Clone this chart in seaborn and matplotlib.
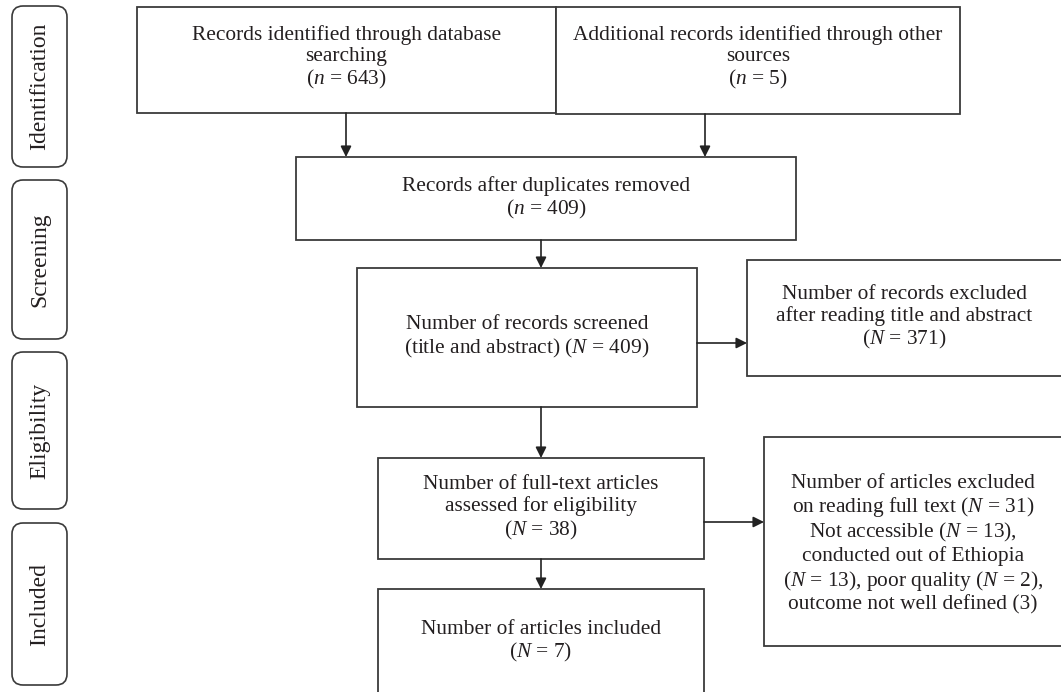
import matplotlib
matplotlib.use("Agg")
import matplotlib.pyplot as plt
import seaborn as sns
from matplotlib.patches import Rectangle, FancyBboxPatch

sns.set_style("white")
plt.rcParams["font.family"] = ["Liberation Serif", "DejaVu Serif"]
plt.rcParams["mathtext.fontset"] = "custom"
plt.rcParams["mathtext.rm"] = "Liberation Serif"
plt.rcParams["mathtext.it"] = "Liberation Serif:italic"

# ---- data ----
stages = ["Identification", "Screening", "Eligibility", "Included"]
box_names = ["database", "other", "dedup", "screened", "excl_ta", "fulltext", "excl_ft", "included"]
box_counts = [643, 5, 409, 409, 371, 38, 31, 7]
box_texts = [
    "Records identified through database\nsearching\n($n$ = {})",
    "Additional records identified through other\nsources\n($n$ = {})",
    "Records after duplicates removed\n($n$ = {})",
    "Number of records screened\n(title and abstract) ($N$ = {})",
    "Number of records excluded\nafter reading title and abstract\n($N$ = {})",
    "Number of full-text articles\nassessed for eligibility\n($N$ = {})",
    "Number of articles excluded\non reading full text ($N$ = {})\nNot accessible ($N$ = 13),\nconducted out of Ethiopia\n($N$ = 13), poor quality ($N$ = 2),\noutcome not well defined (3)",
    "Number of articles included\n($N$ = {})",
]

# ---- layout (pixel coords, y downward) ----
W, H = 1061, 692
stage_y = [(6, 167), (180, 339), (352, 509), (523, 685)]
stage_x = (12, 67)
box_pos = {
    "database": (137, 556, 7, 113),
    "other": (556, 960, 7, 114),
    "dedup": (296, 796, 157, 240),
    "screened": (357, 697, 268, 407),
    "excl_ta": (747, 1062, 260, 376),
    "fulltext": (378, 704, 458, 559),
    "excl_ft": (764, 1062, 437, 646),
    "included": (378, 704, 589, 700),
}
text_y = {"database": 58, "other": 58, "excl_ft": 544, "included": 642}
arrows = [
    ((346, 113), (346, 157)),
    ((705, 114), (705, 157)),
    ((541, 240), (541, 268)),
    ((697, 343), (747, 343)),
    ((541, 407), (541, 458)),
    ((704, 522), (764, 522)),
    ((541, 559), (541, 589)),
]

line_c = "#3a3a3a"
text_c = "#231f20"
fs = 15.4
fs_stage = 17

fig = plt.figure(figsize=(W / 100, H / 100), dpi=100)
ax = fig.add_axes([0, 0, 1, 1])
ax.set_xlim(0, W)
ax.set_ylim(H, 0)
ax.axis("off")

for name, (y0, y1) in zip(stages, stage_y):
    x0, x1 = stage_x
    p = FancyBboxPatch((x0, y0), x1 - x0, y1 - y0,
                       boxstyle="round,pad=0,rounding_size=11",
                       fc="white", ec=line_c, lw=1.2)
    ax.add_patch(p)
    ax.text((x0 + x1) / 2, (y0 + y1) / 2, name, rotation=90, ha="center",
            va="center", fontsize=fs_stage, color=text_c)

for name, cnt, tmpl in zip(box_names, box_counts, box_texts):
    x0, x1, y0, y1 = box_pos[name]
    ax.add_patch(Rectangle((x0, y0), x1 - x0, y1 - y0, fc="white", ec=line_c, lw=1.3))
    yc = text_y.get(name, (y0 + y1) / 2)
    ax.text((x0 + x1) / 2, yc, tmpl.format(cnt), ha="center", va="center",
            fontsize=fs, color=text_c, linespacing=1.14)

for (xa, ya), (xb, yb) in arrows:
    ax.annotate("", xy=(xb, yb), xytext=(xa, ya),
                arrowprops=dict(arrowstyle="-|>", color="#222222", lw=1.2,
                                mutation_scale=16, shrinkA=0, shrinkB=0))

fig.savefig("out.png", dpi=100)
